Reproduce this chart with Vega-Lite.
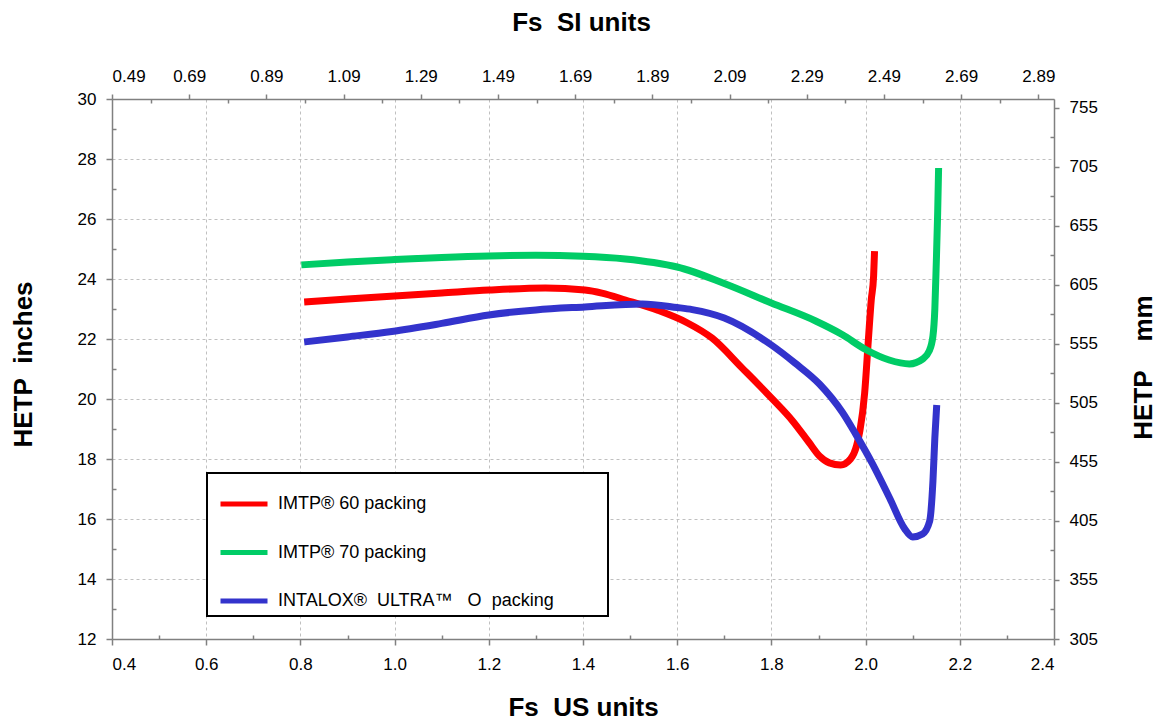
{
  "$schema": "https://vega.github.io/schema/vega-lite/v6.json",
  "width": 942,
  "height": 540,
  "autosize": {"type": "none"},
  "padding": {"left": 112, "top": 99, "right": 104, "bottom": 83},
  "background": "white",
  "config": {
    "view": {"stroke": null},
    "font": "Liberation Sans",
    "legend": {"strokeWidth": 2},
    "axis": {
      "labelFont": "Liberation Sans",
      "labelFontSize": 17,
      "labelColor": "black",
      "titleFont": "Liberation Sans",
      "titleFontSize": 26,
      "titleFontWeight": "bold",
      "titleColor": "black",
      "domainColor": "#808080",
      "domainWidth": 1.5,
      "tickColor": "#808080",
      "tickWidth": 1.5,
      "gridColor": "#c0c0c0",
      "gridDash": [3, 3],
      "gridWidth": 1
    }
  },
  "datasets": {
    "curves": [
      {"series": "IMTP® 60 packing", "fs": 0.808, "hetp": 23.23},
      {"series": "IMTP® 60 packing", "fs": 0.9, "hetp": 23.33},
      {"series": "IMTP® 60 packing", "fs": 1.0, "hetp": 23.43},
      {"series": "IMTP® 60 packing", "fs": 1.1, "hetp": 23.53},
      {"series": "IMTP® 60 packing", "fs": 1.2, "hetp": 23.63},
      {"series": "IMTP® 60 packing", "fs": 1.32, "hetp": 23.7},
      {"series": "IMTP® 60 packing", "fs": 1.404, "hetp": 23.63},
      {"series": "IMTP® 60 packing", "fs": 1.44, "hetp": 23.53},
      {"series": "IMTP® 60 packing", "fs": 1.49, "hetp": 23.3},
      {"series": "IMTP® 60 packing", "fs": 1.56, "hetp": 22.95},
      {"series": "IMTP® 60 packing", "fs": 1.62, "hetp": 22.55},
      {"series": "IMTP® 60 packing", "fs": 1.674, "hetp": 22.03},
      {"series": "IMTP® 60 packing", "fs": 1.738, "hetp": 21.03},
      {"series": "IMTP® 60 packing", "fs": 1.804, "hetp": 19.97},
      {"series": "IMTP® 60 packing", "fs": 1.845, "hetp": 19.27},
      {"series": "IMTP® 60 packing", "fs": 1.88, "hetp": 18.55},
      {"series": "IMTP® 60 packing", "fs": 1.902, "hetp": 18.1},
      {"series": "IMTP® 60 packing", "fs": 1.923, "hetp": 17.87},
      {"series": "IMTP® 60 packing", "fs": 1.947, "hetp": 17.8},
      {"series": "IMTP® 60 packing", "fs": 1.968, "hetp": 18.0},
      {"series": "IMTP® 60 packing", "fs": 1.981, "hetp": 18.45},
      {"series": "IMTP® 60 packing", "fs": 1.988, "hetp": 18.95},
      {"series": "IMTP® 60 packing", "fs": 1.998, "hetp": 20.2},
      {"series": "IMTP® 60 packing", "fs": 2.006, "hetp": 22.0},
      {"series": "IMTP® 60 packing", "fs": 2.012, "hetp": 23.3},
      {"series": "IMTP® 60 packing", "fs": 2.017, "hetp": 24.1},
      {"series": "IMTP® 60 packing", "fs": 2.019, "hetp": 24.93},
      {"series": "IMTP® 70 packing", "fs": 0.802, "hetp": 24.47},
      {"series": "IMTP® 70 packing", "fs": 0.9, "hetp": 24.57},
      {"series": "IMTP® 70 packing", "fs": 1.0, "hetp": 24.65},
      {"series": "IMTP® 70 packing", "fs": 1.1, "hetp": 24.72},
      {"series": "IMTP® 70 packing", "fs": 1.2, "hetp": 24.77},
      {"series": "IMTP® 70 packing", "fs": 1.3, "hetp": 24.79},
      {"series": "IMTP® 70 packing", "fs": 1.4, "hetp": 24.76},
      {"series": "IMTP® 70 packing", "fs": 1.49, "hetp": 24.67},
      {"series": "IMTP® 70 packing", "fs": 1.55, "hetp": 24.55},
      {"series": "IMTP® 70 packing", "fs": 1.6, "hetp": 24.4},
      {"series": "IMTP® 70 packing", "fs": 1.7, "hetp": 23.85},
      {"series": "IMTP® 70 packing", "fs": 1.8, "hetp": 23.2},
      {"series": "IMTP® 70 packing", "fs": 1.894, "hetp": 22.6},
      {"series": "IMTP® 70 packing", "fs": 1.95, "hetp": 22.15},
      {"series": "IMTP® 70 packing", "fs": 2.0, "hetp": 21.65},
      {"series": "IMTP® 70 packing", "fs": 2.05, "hetp": 21.3},
      {"series": "IMTP® 70 packing", "fs": 2.093, "hetp": 21.17},
      {"series": "IMTP® 70 packing", "fs": 2.121, "hetp": 21.33},
      {"series": "IMTP® 70 packing", "fs": 2.135, "hetp": 21.6},
      {"series": "IMTP® 70 packing", "fs": 2.143, "hetp": 22.1},
      {"series": "IMTP® 70 packing", "fs": 2.147, "hetp": 23.0},
      {"series": "IMTP® 70 packing", "fs": 2.15, "hetp": 24.5},
      {"series": "IMTP® 70 packing", "fs": 2.153, "hetp": 26.2},
      {"series": "IMTP® 70 packing", "fs": 2.155, "hetp": 27.7},
      {"series": "INTALOX®\u00a0\u00a0ULTRA™\u00a0\u00a0\u00a0O\u00a0\u00a0packing", "fs": 0.808, "hetp": 21.9},
      {"series": "INTALOX®\u00a0\u00a0ULTRA™\u00a0\u00a0\u00a0O\u00a0\u00a0packing", "fs": 0.9, "hetp": 22.07},
      {"series": "INTALOX®\u00a0\u00a0ULTRA™\u00a0\u00a0\u00a0O\u00a0\u00a0packing", "fs": 0.994, "hetp": 22.25},
      {"series": "INTALOX®\u00a0\u00a0ULTRA™\u00a0\u00a0\u00a0O\u00a0\u00a0packing", "fs": 1.1, "hetp": 22.52},
      {"series": "INTALOX®\u00a0\u00a0ULTRA™\u00a0\u00a0\u00a0O\u00a0\u00a0packing", "fs": 1.2, "hetp": 22.8},
      {"series": "INTALOX®\u00a0\u00a0ULTRA™\u00a0\u00a0\u00a0O\u00a0\u00a0packing", "fs": 1.3, "hetp": 22.97},
      {"series": "INTALOX®\u00a0\u00a0ULTRA™\u00a0\u00a0\u00a0O\u00a0\u00a0packing", "fs": 1.404, "hetp": 23.07},
      {"series": "INTALOX®\u00a0\u00a0ULTRA™\u00a0\u00a0\u00a0O\u00a0\u00a0packing", "fs": 1.526, "hetp": 23.17},
      {"series": "INTALOX®\u00a0\u00a0ULTRA™\u00a0\u00a0\u00a0O\u00a0\u00a0packing", "fs": 1.6, "hetp": 23.05},
      {"series": "INTALOX®\u00a0\u00a0ULTRA™\u00a0\u00a0\u00a0O\u00a0\u00a0packing", "fs": 1.632, "hetp": 22.98},
      {"series": "INTALOX®\u00a0\u00a0ULTRA™\u00a0\u00a0\u00a0O\u00a0\u00a0packing", "fs": 1.7, "hetp": 22.7},
      {"series": "INTALOX®\u00a0\u00a0ULTRA™\u00a0\u00a0\u00a0O\u00a0\u00a0packing", "fs": 1.8, "hetp": 21.8},
      {"series": "INTALOX®\u00a0\u00a0ULTRA™\u00a0\u00a0\u00a0O\u00a0\u00a0packing", "fs": 1.85, "hetp": 21.2},
      {"series": "INTALOX®\u00a0\u00a0ULTRA™\u00a0\u00a0\u00a0O\u00a0\u00a0packing", "fs": 1.902, "hetp": 20.5},
      {"series": "INTALOX®\u00a0\u00a0ULTRA™\u00a0\u00a0\u00a0O\u00a0\u00a0packing", "fs": 1.951, "hetp": 19.55},
      {"series": "INTALOX®\u00a0\u00a0ULTRA™\u00a0\u00a0\u00a0O\u00a0\u00a0packing", "fs": 1.979, "hetp": 18.83},
      {"series": "INTALOX®\u00a0\u00a0ULTRA™\u00a0\u00a0\u00a0O\u00a0\u00a0packing", "fs": 2.015, "hetp": 17.83},
      {"series": "INTALOX®\u00a0\u00a0ULTRA™\u00a0\u00a0\u00a0O\u00a0\u00a0packing", "fs": 2.051, "hetp": 16.7},
      {"series": "INTALOX®\u00a0\u00a0ULTRA™\u00a0\u00a0\u00a0O\u00a0\u00a0packing", "fs": 2.083, "hetp": 15.67},
      {"series": "INTALOX®\u00a0\u00a0ULTRA™\u00a0\u00a0\u00a0O\u00a0\u00a0packing", "fs": 2.1, "hetp": 15.4},
      {"series": "INTALOX®\u00a0\u00a0ULTRA™\u00a0\u00a0\u00a0O\u00a0\u00a0packing", "fs": 2.121, "hetp": 15.5},
      {"series": "INTALOX®\u00a0\u00a0ULTRA™\u00a0\u00a0\u00a0O\u00a0\u00a0packing", "fs": 2.136, "hetp": 15.93},
      {"series": "INTALOX®\u00a0\u00a0ULTRA™\u00a0\u00a0\u00a0O\u00a0\u00a0packing", "fs": 2.143, "hetp": 17.27},
      {"series": "INTALOX®\u00a0\u00a0ULTRA™\u00a0\u00a0\u00a0O\u00a0\u00a0packing", "fs": 2.147, "hetp": 18.7},
      {"series": "INTALOX®\u00a0\u00a0ULTRA™\u00a0\u00a0\u00a0O\u00a0\u00a0packing", "fs": 2.151, "hetp": 19.8}
    ],
    "frame": [{"fs": 0.4, "hetp": 12, "si": 0.49, "mm": 305}]
  },
  "layer": [
    {
      "data": {"name": "curves"},
      "mark": {"type": "line", "strokeWidth": 7, "interpolate": "monotone", "strokeCap": "butt", "strokeJoin": "round"},
      "encoding": {
        "x": {
          "field": "fs", "type": "quantitative",
          "scale": {"domain": [0.4, 2.4], "nice": false, "zero": false},
          "axis": {
            "orient": "bottom", "values": [0.4, 0.6, 0.8, 1.0, 1.2, 1.4, 1.6, 1.8, 2.0, 2.2, 2.4],
            "format": ".1f", "title": "Fs\u00a0\u00a0US units", "grid": true, "tickSize": 6, "labelPadding": 11,
            "titleX": 471, "titleY": 68, "titleBaseline": "middle", "titleAlign": "center"
          }
        },
        "y": {
          "field": "hetp", "type": "quantitative",
          "scale": {"domain": [12, 30], "nice": false, "zero": false},
          "axis": {
            "orient": "left", "values": [12, 14, 16, 18, 20, 22, 24, 26, 28, 30],
            "format": "d", "title": "HETP\u00a0\u00a0inches", "grid": true, "tickSize": 6, "labelPadding": 10,
            "titleX": -89, "titleY": 265, "titleBaseline": "middle", "titleAlign": "center", "titleAngle": 270
          }
        },
        "color": {
          "field": "series", "type": "nominal",
          "scale": {
            "domain": ["IMTP® 60 packing", "IMTP® 70 packing", "INTALOX®\u00a0\u00a0ULTRA™\u00a0\u00a0\u00a0O\u00a0\u00a0packing"],
            "range": ["#ff0000", "#00cc66", "#3333cc"]
          },
          "legend": {
            "orient": "none", "legendX": 95, "legendY": 374,
            "title": "\u00a0", "titleOrient": "right", "titlePadding": 49, "titleFontSize": 10,
            "symbolType": "stroke", "symbolStrokeWidth": 5, "symbolSize": 2209,
            "labelFont": "Liberation Sans", "labelFontSize": 18, "labelColor": "black", "labelLimit": 600,
            "labelOffset": 8, "symbolOffset": 6, "padding": 5, "rowPadding": 12.5,
            "strokeColor": "black", "fillColor": "white"
          }
        }
      }
    },
    {
      "data": {"name": "frame"},
      "mark": {"type": "point", "opacity": 0},
      "encoding": {
        "x": {
          "field": "si", "type": "quantitative",
          "scale": {"domain": [0.49, 2.9307], "nice": false, "zero": false},
          "axis": {
            "orient": "top", "values": [0.49, 0.69, 0.89, 1.09, 1.29, 1.49, 1.69, 1.89, 2.09, 2.29, 2.49, 2.69, 2.89],
            "format": ".2f", "title": "Fs\u00a0\u00a0SI units", "grid": false, "tickSize": 5, "labelPadding": 9,
            "titleX": 469, "titleY": -77, "titleBaseline": "middle", "titleAlign": "center"
          }
        },
        "y": {
          "field": "mm", "type": "quantitative",
          "scale": {"domain": [305, 762.5], "nice": false, "zero": false},
          "axis": {
            "orient": "right", "values": [305, 355, 405, 455, 505, 555, 605, 655, 705, 755],
            "format": "d", "title": "HETP\u00a0\u00a0\u00a0\u00a0mm", "grid": false, "tickSize": 5, "labelPadding": 10,
            "titleX": 89, "titleY": 268, "titleBaseline": "middle", "titleAlign": "center", "titleAngle": 270
          }
        }
      }
    },
    {
      "data": {"name": "frame"},
      "mark": {"type": "point", "opacity": 0},
      "encoding": {
        "x": {
          "field": "fs", "type": "quantitative",
          "scale": {"domain": [0.4, 2.4], "nice": false, "zero": false},
          "axis": {
            "orient": "bottom", "values": [0.5, 0.7, 0.9, 1.1, 1.3, 1.5, 1.7, 1.9, 2.1, 2.3],
            "labels": false, "domain": false, "grid": false, "tickSize": -4, "title": null
          }
        },
        "y": {
          "field": "hetp", "type": "quantitative",
          "scale": {"domain": [12, 30], "nice": false, "zero": false},
          "axis": {
            "orient": "left", "values": [13, 15, 17, 19, 21, 23, 25, 27, 29],
            "labels": false, "domain": false, "grid": false, "tickSize": -4, "title": null
          }
        }
      }
    },
    {
      "data": {"name": "frame"},
      "mark": {"type": "point", "opacity": 0},
      "encoding": {
        "x": {
          "field": "si", "type": "quantitative",
          "scale": {"domain": [0.49, 2.9307], "nice": false, "zero": false},
          "axis": {
            "orient": "top", "values": [0.59, 0.79, 0.99, 1.19, 1.39, 1.59, 1.79, 1.99, 2.19, 2.39, 2.59, 2.79],
            "labels": false, "domain": false, "grid": false, "tickSize": -4, "title": null
          }
        },
        "y": {
          "field": "mm", "type": "quantitative",
          "scale": {"domain": [305, 762.5], "nice": false, "zero": false},
          "axis": {
            "orient": "right", "values": [330, 380, 430, 480, 530, 580, 630, 680, 730],
            "labels": false, "domain": false, "grid": false, "tickSize": -4, "title": null
          }
        }
      }
    }
  ],
  "resolve": {"scale": {"x": "independent", "y": "independent"}}
}
